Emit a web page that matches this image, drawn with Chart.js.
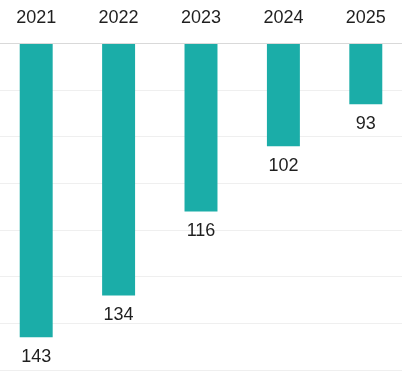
<!DOCTYPE html>
<html>
<head>
<meta charset="utf-8">
<script src="https://cdn.jsdelivr.net/npm/chart.js@4.4.1/dist/chart.umd.min.js"></script>
<style>
  html, body { margin: 0; padding: 0; background: #fff; overflow: hidden; }
  #wrap { width: 412px; height: 373px; position: relative; left: -5px; }
</style>
</head>
<body>
<div id="wrap"><canvas id="chart"></canvas></div>
<script>
const years = ['2021', '2022', '2023', '2024', '2025'];
const values = [143, 134, 116, 102, 93];
const axisMin = 80;
const axisMax = 150;
const barColor = '#1bada8';
const textColor = '#1f1f1f';
const fontFamily = '"Liberation Sans", Arial, sans-serif';

// value labels under the end of each bar
const barLabels = {
    id: 'barLabels',
    afterDatasetsDraw(chart) {
        const ctx = chart.ctx;
        const meta = chart.getDatasetMeta(0);
        ctx.save();
        ctx.font = '18px ' + fontFamily;
        ctx.fillStyle = textColor;
        ctx.textAlign = 'center';
        ctx.textBaseline = 'middle';
        meta.data.forEach((bar, i) => {
            ctx.fillText(String(values[i]), bar.x, bar.y + 20);
        });
        ctx.restore();
    }
};

new Chart(document.getElementById('chart'), {
    type: 'bar',
    data: {
        labels: years,
        datasets: [{
            data: values,
            backgroundColor: barColor,
            barPercentage: 0.4,
            categoryPercentage: 1.0,
            base: axisMin
        }]
    },
    options: {
        responsive: true,
        maintainAspectRatio: false,
        animation: false,
        layout: { padding: { left: 0, right: 0, top: 0, bottom: 3 } },
        plugins: {
            legend: { display: false },
            tooltip: { enabled: false }
        },
        scales: {
            x: {
                position: 'top',
                grid: { display: false },
                border: { display: false },
                ticks: {
                    color: textColor,
                    font: { family: fontFamily, size: 18 },
                    padding: 7
                }
            },
            y: {
                reverse: true,
                min: axisMin,
                max: axisMax,
                border: { display: false },
                ticks: { display: false, stepSize: 10 },
                grid: {
                    drawTicks: false,
                    color: (c) => c.tick && c.tick.value === axisMin ? '#d9d9d9' : '#efefef'
                }
            }
        }
    },
    plugins: [barLabels]
});
</script>
</body>
</html>
